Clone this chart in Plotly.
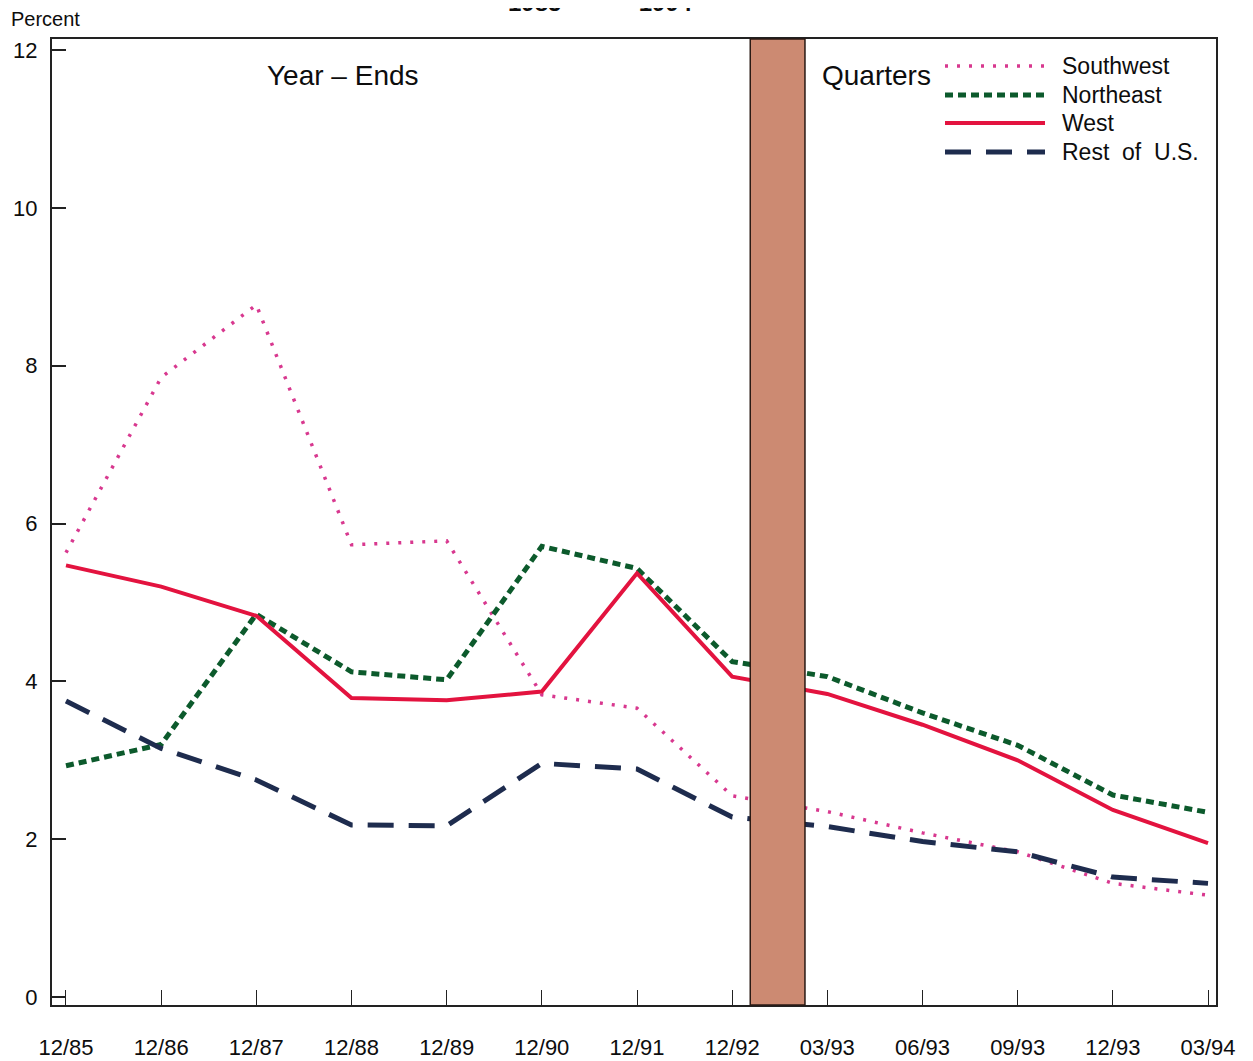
import plotly.graph_objects as go

categories = ["12/85", "12/86", "12/87", "12/88", "12/89", "12/90", "12/91",
              "12/92", "03/93", "06/93", "09/93", "12/93", "03/94"]
southwest = [5.63, 7.85, 8.77, 5.73, 5.78, 3.83, 3.66, 2.55, 2.35, 2.08, 1.84, 1.44, 1.29]
northeast = [2.93, 3.20, 4.85, 4.12, 4.02, 5.71, 5.43, 4.25, 4.06, 3.60, 3.19, 2.56, 2.34]
west      = [5.47, 5.20, 4.83, 3.79, 3.76, 3.87, 5.37, 4.06, 3.84, 3.45, 3.00, 2.37, 1.95]
rest_us   = [3.75, 3.15, 2.75, 2.18, 2.17, 2.96, 2.89, 2.28, 2.16, 1.97, 1.84, 1.52, 1.44]
y_ticks = [0, 2, 4, 6, 8, 10, 12]

FONT = "Liberation Sans"
TXT = "#0d0d0d"
OFF = 8  # page body margin
W, H = 1253 - OFF, 1061 - OFF
# target plot box in page pixels: left 52, right 1216, top 39, bottom 1005
ML, MT = 52 - OFF, 39 - OFF
MR = W - (1216 - OFF)
MB = H - (1005 - OFF)
PW, PH = W - ML - MR, H - MT - MB

def px(xp):  # page pixel -> paper x
    return (xp - OFF - ML) / PW

def py(yp):  # page pixel -> paper y
    return (H - MB - (yp - OFF)) / PH

series = [
    ("Southwest", southwest, "#d8388f", 3.5, "3px,9px"),
    ("Northeast", northeast, "#0c5a2c", 5, "8px,5px"),
    ("West", west, "#e3133f", 4, "solid"),
    ("Rest of U.S.", rest_us, "#1e2c4e", 5, "26px,15px"),
]

xi = list(range(len(categories)))
fig = go.Figure()
for name, vals, color, width, dash in series:
    fig.add_trace(go.Scatter(x=xi, y=vals, mode="lines", name=name,
                             line=dict(color=color, width=width, dash=dash),
                             showlegend=False))

shapes = []
shapes.append(dict(type="rect", xref="x", yref="paper", x0=7.19, x1=7.765, y0=0, y1=1,
                   fillcolor="#cc8a72", line=dict(color="#2a1a14", width=1.5), layer="above"))

annotations = []
leg_y = [66, 95, 123, 152]
leg_names = ["Southwest", "Northeast", "West", "Rest\u00a0 of\u00a0 U.S."]
for (name, vals, color, width, dash), ly, lbl in zip(series, leg_y, leg_names):
    shapes.append(dict(type="line", xref="paper", yref="paper",
                       x0=px(945), x1=px(1045), y0=py(ly), y1=py(ly),
                       line=dict(color=color, width=width, dash=dash)))
    annotations.append(dict(text=lbl, xref="paper", yref="paper", x=px(1060), y=py(ly),
                            xanchor="left", yanchor="middle", showarrow=False,
                            font=dict(family=FONT, size=23, color=TXT)))

annotations += [
    dict(text="Year \u2013 Ends", xref="paper", yref="paper", x=px(343), y=py(76),
         xanchor="center", yanchor="middle", showarrow=False,
         font=dict(family=FONT, size=28, color=TXT)),
    dict(text="Quarters", xref="paper", yref="paper", x=px(820), y=py(76),
         xanchor="left", yanchor="middle", showarrow=False,
         font=dict(family=FONT, size=28, color=TXT)),
    dict(text="Percent", xref="paper", yref="paper", x=px(9), y=py(19),
         xanchor="left", yanchor="middle", showarrow=False,
         font=dict(family=FONT, size=20, color=TXT)),
    dict(text="1985\u00a0\u00a0\u00a0\u00a0\u2014\u00a0\u00a0\u00a0\u00a01994", xref="paper", yref="paper",
         x=px(600), y=py(2), xanchor="center", yanchor="middle", showarrow=False,
         font=dict(family=FONT, size=24, color=TXT, weight="bold")),
]

fig.update_layout(
    width=W, height=H,
    margin=dict(l=ML, r=MR, t=MT, b=MB, pad=0, autoexpand=False),
    paper_bgcolor="white", plot_bgcolor="white",
    font=dict(family=FONT, size=22, color=TXT),
    shapes=shapes, annotations=annotations,
    showlegend=False,
)
fig.update_xaxes(range=[-0.147, 12.084], tickmode="array", tickvals=xi, ticktext=categories,
                 ticks="inside", ticklen=15, tickwidth=1.2, tickcolor="#222",
                 showline=True, linecolor="#222", linewidth=2, mirror=True,
                 showgrid=False, zeroline=False, ticklabelstandoff=22, automargin=False,
                 tickfont=dict(family=FONT, size=22, color=TXT))
fig.update_yaxes(range=[-0.101, 12.139], tickmode="array", tickvals=y_ticks,
                 ticks="inside", ticklen=14, tickwidth=1.5, tickcolor="#222",
                 showline=True, linecolor="#222", linewidth=2, mirror=True,
                 showgrid=False, zeroline=False, ticklabelstandoff=8, automargin=False,
                 tickfont=dict(family=FONT, size=22, color=TXT))

fig.write_html("out.html")
